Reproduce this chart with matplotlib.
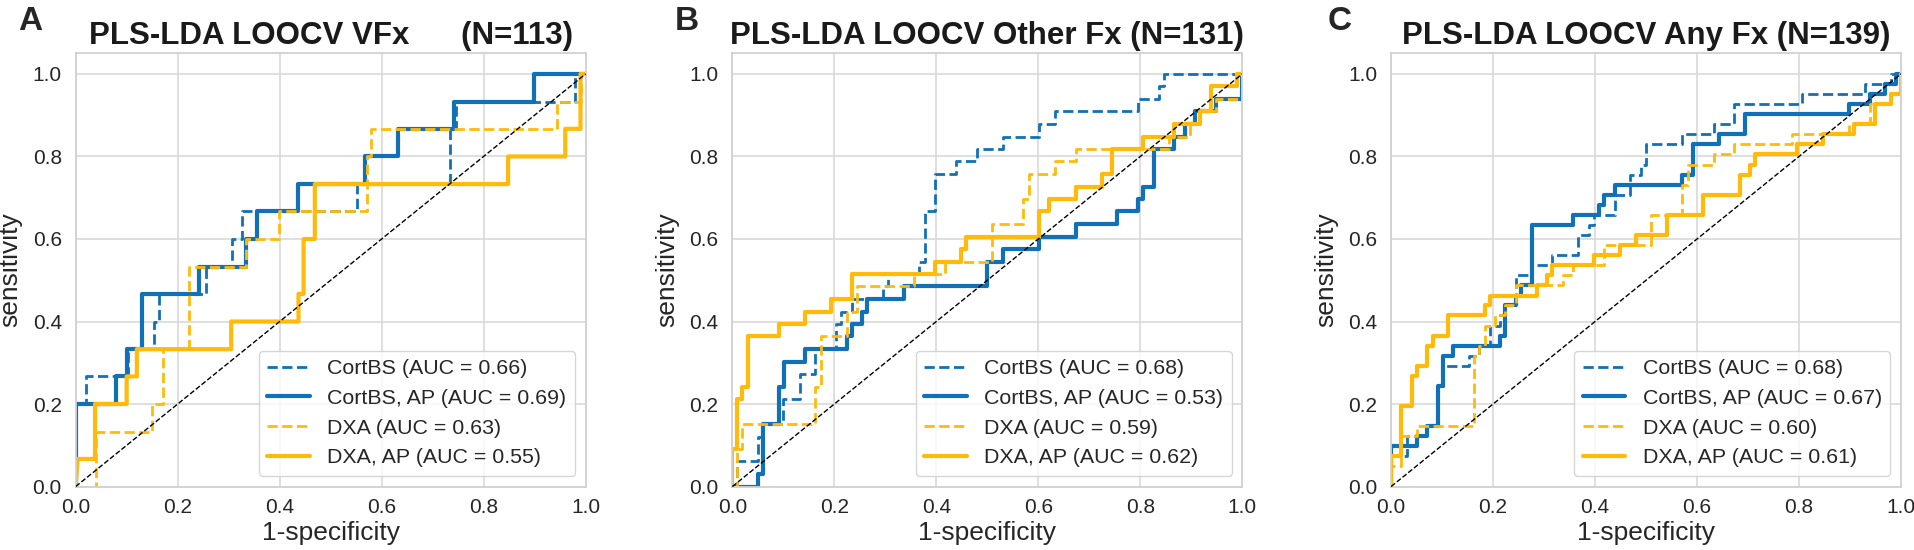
import matplotlib
matplotlib.use("Agg")
import matplotlib.pyplot as plt
import seaborn as sns

# ROC vertices (1-specificity, sensitivity)
# Panel A: vertebral fractures
vfx_cortbs = [(0, 0), (0, 0.2), (0.02, 0.2), (0.02, 0.267), (0.102, 0.267), (0.102, 0.333),
              (0.153, 0.333), (0.153, 0.4), (0.163, 0.4), (0.163, 0.467), (0.255, 0.467),
              (0.255, 0.533), (0.306, 0.533), (0.306, 0.6), (0.327, 0.6), (0.327, 0.667),
              (0.551, 0.667), (0.551, 0.733), (0.735, 0.733), (0.735, 0.867), (0.745, 0.867),
              (0.745, 0.933), (0.98, 0.933), (0.98, 1.0), (1.0, 1.0)]
vfx_cortbs_ap = [(0, 0), (0, 0.2), (0.079, 0.2), (0.079, 0.267), (0.1, 0.267), (0.1, 0.333),
                 (0.131, 0.333), (0.131, 0.467), (0.242, 0.467), (0.242, 0.533), (0.335, 0.533),
                 (0.335, 0.6), (0.355, 0.6), (0.355, 0.667), (0.437, 0.667), (0.437, 0.733),
                 (0.568, 0.733), (0.568, 0.8), (0.633, 0.8), (0.633, 0.867), (0.741, 0.867),
                 (0.741, 0.933), (0.898, 0.933), (0.898, 1.0), (1.0, 1.0)]
vfx_dxa = [(0, 0), (0.04, 0), (0.04, 0.133), (0.149, 0.133), (0.149, 0.2), (0.172, 0.2),
           (0.172, 0.333), (0.223, 0.333), (0.223, 0.533), (0.335, 0.533), (0.335, 0.6),
           (0.398, 0.6), (0.398, 0.667), (0.571, 0.667), (0.571, 0.8), (0.58, 0.8),
           (0.58, 0.867), (0.944, 0.867), (0.944, 0.933), (0.99, 0.933), (0.99, 1.0), (1.0, 1.0)]
vfx_dxa_ap = [(0, 0), (0.004, 0.067), (0.038, 0.067), (0.038, 0.2), (0.1, 0.2), (0.1, 0.267),
              (0.12, 0.267), (0.12, 0.333), (0.305, 0.333), (0.305, 0.4), (0.437, 0.4),
              (0.437, 0.467), (0.447, 0.467), (0.447, 0.6), (0.469, 0.6), (0.469, 0.733),
              (0.848, 0.733), (0.848, 0.8), (0.96, 0.8), (0.96, 0.867), (0.99, 0.867),
              (0.99, 1.0), (1.0, 1.0)]

# Panel B: other fractures
oth_cortbs = [(0, 0), (0.01, 0), (0.01, 0.061), (0.051, 0.061), (0.051, 0.121), (0.061, 0.121),
              (0.061, 0.152), (0.1, 0.152), (0.1, 0.212), (0.133, 0.212), (0.133, 0.273),
              (0.163, 0.273), (0.163, 0.333), (0.204, 0.333), (0.204, 0.394), (0.214, 0.394),
              (0.214, 0.424), (0.235, 0.424), (0.235, 0.455), (0.296, 0.455), (0.296, 0.485),
              (0.306, 0.485), (0.306, 0.515), (0.367, 0.515), (0.367, 0.545), (0.378, 0.545),
              (0.378, 0.667), (0.398, 0.667), (0.398, 0.758), (0.439, 0.758), (0.439, 0.788),
              (0.48, 0.788), (0.48, 0.818), (0.531, 0.818), (0.531, 0.848), (0.602, 0.848),
              (0.602, 0.879), (0.633, 0.879), (0.633, 0.909), (0.796, 0.909), (0.796, 0.939),
              (0.837, 0.939), (0.837, 0.97), (0.847, 0.97), (0.847, 1.0), (1.0, 1.0)]
oth_cortbs_ap = [(0, 0), (0.051, 0), (0.051, 0.03), (0.061, 0.03), (0.061, 0.152), (0.092, 0.152),
                 (0.092, 0.242), (0.102, 0.242), (0.102, 0.303), (0.143, 0.303), (0.143, 0.333),
                 (0.224, 0.333), (0.224, 0.364), (0.235, 0.364), (0.235, 0.394), (0.255, 0.394),
                 (0.255, 0.424), (0.265, 0.424), (0.265, 0.455), (0.337, 0.455), (0.337, 0.485),
                 (0.5, 0.485), (0.5, 0.545), (0.531, 0.545), (0.531, 0.576), (0.602, 0.576),
                 (0.602, 0.606), (0.673, 0.606), (0.673, 0.636), (0.755, 0.636), (0.755, 0.667),
                 (0.796, 0.667), (0.796, 0.697), (0.806, 0.697), (0.806, 0.727), (0.827, 0.727),
                 (0.827, 0.818), (0.867, 0.818), (0.867, 0.848), (0.888, 0.848), (0.888, 0.879),
                 (0.908, 0.879), (0.908, 0.909), (0.949, 0.909), (0.949, 0.939), (1.0, 0.939),
                 (1.0, 1.0)]
oth_dxa = [(0, 0), (0.01, 0), (0.01, 0.091), (0.02, 0.091), (0.02, 0.152), (0.163, 0.152),
           (0.163, 0.242), (0.173, 0.242), (0.173, 0.364), (0.224, 0.364), (0.224, 0.424),
           (0.245, 0.424), (0.245, 0.485), (0.357, 0.485), (0.357, 0.515), (0.418, 0.515),
           (0.418, 0.545), (0.51, 0.545), (0.51, 0.636), (0.571, 0.636), (0.571, 0.697),
           (0.582, 0.697), (0.582, 0.758), (0.633, 0.758), (0.633, 0.788), (0.673, 0.788),
           (0.673, 0.818), (0.857, 0.818), (0.857, 0.848), (0.898, 0.848), (0.898, 0.879),
           (0.918, 0.879), (0.918, 0.909), (0.949, 0.909), (0.949, 0.939), (1.0, 0.939),
           (1.0, 1.0)]
oth_dxa_ap = [(0, 0), (0, 0.091), (0.01, 0.091), (0.01, 0.212), (0.02, 0.212), (0.02, 0.242),
              (0.031, 0.242), (0.031, 0.364), (0.092, 0.364), (0.092, 0.394), (0.143, 0.394),
              (0.143, 0.424), (0.194, 0.424), (0.194, 0.455), (0.235, 0.455), (0.235, 0.515),
              (0.398, 0.515), (0.398, 0.545), (0.449, 0.545), (0.449, 0.576), (0.459, 0.576),
              (0.459, 0.606), (0.602, 0.606), (0.602, 0.667), (0.622, 0.667), (0.622, 0.697),
              (0.673, 0.697), (0.673, 0.727), (0.724, 0.727), (0.724, 0.758), (0.745, 0.758),
              (0.745, 0.818), (0.806, 0.818), (0.806, 0.848), (0.867, 0.848), (0.867, 0.879),
              (0.918, 0.879), (0.918, 0.909), (0.939, 0.909), (0.939, 0.97), (0.99, 0.97),
              (0.99, 1.0), (1.0, 1.0)]

# Panel C: any fracture
any_cortbs = [(0, 0), (0, 0.073), (0.031, 0.073), (0.031, 0.122), (0.071, 0.122), (0.071, 0.146),
              (0.092, 0.146), (0.092, 0.244), (0.102, 0.244), (0.102, 0.293), (0.153, 0.293),
              (0.153, 0.317), (0.173, 0.317), (0.173, 0.341), (0.194, 0.341), (0.194, 0.39),
              (0.214, 0.39), (0.214, 0.415), (0.224, 0.415), (0.224, 0.439), (0.245, 0.439),
              (0.245, 0.512), (0.276, 0.512), (0.276, 0.537), (0.316, 0.537), (0.316, 0.561),
              (0.367, 0.561), (0.367, 0.61), (0.388, 0.61), (0.388, 0.634), (0.398, 0.634),
              (0.398, 0.659), (0.439, 0.659), (0.439, 0.707), (0.469, 0.707), (0.469, 0.756),
              (0.49, 0.756), (0.49, 0.78), (0.5, 0.78), (0.5, 0.829), (0.571, 0.829),
              (0.571, 0.854), (0.633, 0.854), (0.633, 0.878), (0.673, 0.878), (0.673, 0.927),
              (0.806, 0.927), (0.806, 0.951), (0.929, 0.951), (0.929, 0.976), (0.98, 0.976),
              (0.98, 1.0), (1.0, 1.0)]
any_cortbs_ap = [(0, 0), (0, 0.098), (0.051, 0.098), (0.051, 0.122), (0.071, 0.122), (0.071, 0.146),
                 (0.092, 0.146), (0.092, 0.244), (0.102, 0.244), (0.102, 0.317), (0.122, 0.317),
                 (0.122, 0.341), (0.214, 0.341), (0.214, 0.366), (0.224, 0.366), (0.224, 0.439),
                 (0.245, 0.439), (0.245, 0.463), (0.255, 0.463), (0.255, 0.488), (0.276, 0.488),
                 (0.276, 0.634), (0.357, 0.634), (0.357, 0.659), (0.408, 0.659), (0.408, 0.683),
                 (0.418, 0.683), (0.418, 0.707), (0.439, 0.707), (0.439, 0.732), (0.571, 0.732),
                 (0.571, 0.756), (0.592, 0.756), (0.592, 0.829), (0.643, 0.829), (0.643, 0.854),
                 (0.694, 0.854), (0.694, 0.902), (0.898, 0.902), (0.898, 0.927), (0.939, 0.927),
                 (0.939, 0.951), (0.969, 0.951), (0.969, 0.976), (0.99, 0.976), (0.99, 1.0),
                 (1.0, 1.0)]
any_dxa = [(0, 0), (0, 0.049), (0.02, 0.049), (0.02, 0.122), (0.051, 0.122), (0.051, 0.146),
           (0.163, 0.146), (0.163, 0.317), (0.173, 0.317), (0.173, 0.341), (0.184, 0.341),
           (0.184, 0.39), (0.204, 0.39), (0.204, 0.415), (0.224, 0.415), (0.224, 0.439),
           (0.245, 0.439), (0.245, 0.488), (0.337, 0.488), (0.337, 0.512), (0.357, 0.512),
           (0.357, 0.537), (0.418, 0.537), (0.418, 0.585), (0.51, 0.585), (0.51, 0.659),
           (0.571, 0.659), (0.571, 0.732), (0.582, 0.732), (0.582, 0.78), (0.633, 0.78),
           (0.633, 0.805), (0.673, 0.805), (0.673, 0.829), (0.786, 0.829), (0.786, 0.854),
           (0.898, 0.854), (0.898, 0.878), (0.939, 0.878), (0.939, 0.927), (0.98, 0.927),
           (0.98, 0.951), (1.0, 0.951), (1.0, 1.0)]
any_dxa_ap = [(0, 0), (0, 0.073), (0.02, 0.073), (0.02, 0.195), (0.041, 0.195), (0.041, 0.268),
              (0.051, 0.268), (0.051, 0.293), (0.071, 0.293), (0.071, 0.341), (0.082, 0.341),
              (0.082, 0.366), (0.112, 0.366), (0.112, 0.415), (0.184, 0.415), (0.184, 0.439),
              (0.194, 0.439), (0.194, 0.463), (0.286, 0.463), (0.286, 0.488), (0.306, 0.488),
              (0.306, 0.512), (0.316, 0.512), (0.316, 0.537), (0.398, 0.537), (0.398, 0.561),
              (0.449, 0.561), (0.449, 0.585), (0.48, 0.585), (0.48, 0.61), (0.541, 0.61),
              (0.541, 0.659), (0.612, 0.659), (0.612, 0.707), (0.684, 0.707), (0.684, 0.756),
              (0.704, 0.756), (0.704, 0.78), (0.714, 0.78), (0.714, 0.805), (0.796, 0.805),
              (0.796, 0.829), (0.847, 0.829), (0.847, 0.854), (0.908, 0.854), (0.908, 0.878),
              (0.949, 0.878), (0.949, 0.927), (0.98, 0.927), (0.98, 0.951), (1.0, 0.951),
              (1.0, 1.0)]

series_names = ["CortBS", "CortBS, AP", "DXA", "DXA, AP"]
titles = ["PLS-LDA LOOCV VFx      (N=113)",
          "PLS-LDA LOOCV Other Fx (N=131)",
          "PLS-LDA LOOCV Any Fx (N=139)"]
panel_letters = ["A", "B", "C"]
auc_vfx = [0.66, 0.69, 0.63, 0.55]
auc_oth = [0.68, 0.53, 0.59, 0.62]
auc_any = [0.68, 0.67, 0.60, 0.61]

curves = [[vfx_cortbs, vfx_cortbs_ap, vfx_dxa, vfx_dxa_ap],
          [oth_cortbs, oth_cortbs_ap, oth_dxa, oth_dxa_ap],
          [any_cortbs, any_cortbs_ap, any_dxa, any_dxa_ap]]
aucs = [auc_vfx, auc_oth, auc_any]

BLUE = "#1070B8"
GOLD = "#FFBA0A"
styles = [dict(color=BLUE, ls="--", lw=2.0),
          dict(color=BLUE, ls="-", lw=3.0),
          dict(color=GOLD, ls="--", lw=2.0),
          dict(color=GOLD, ls="-", lw=3.0)]

sns.set_style("whitegrid")
plt.rcParams["font.family"] = ["Liberation Sans", "DejaVu Sans"]
plt.rcParams["axes.edgecolor"] = "0.82"
plt.rcParams["grid.color"] = "0.85"

fig = plt.figure(figsize=(19.15, 5.5), dpi=100)
lefts = [0.0395, 0.3824, 0.7264]
letter_x = [0.0094, 0.3525, 0.6935]

for i in range(3):
    ax = fig.add_axes([lefts[i], 0.1153, 0.2663, 0.7878])
    for j in range(4):
        xs = [p[0] for p in curves[i][j]]
        ys = [p[1] for p in curves[i][j]]
        ax.plot(xs, ys, label=f"{series_names[j]} (AUC = {aucs[i][j]:.2f})", **styles[j])
    ax.plot([0, 1], [0, 1], color="k", ls="--", lw=1.0, zorder=5)

    ax.set_xlim(0, 1)
    ax.set_ylim(0, 1.05)
    ax.set_xticks([0, 0.2, 0.4, 0.6, 0.8, 1.0])
    ax.set_yticks([0, 0.2, 0.4, 0.6, 0.8, 1.0])
    ax.set_xticklabels(["0.0", "0.2", "0.4", "0.6", "0.8", "1.0"])
    ax.set_yticklabels(["0.0", "0.2", "0.4", "0.6", "0.8", "1.0"])
    ax.tick_params(axis="x", labelsize=15, pad=8, length=0, colors="0.15")
    ax.tick_params(axis="y", labelsize=15, pad=10, length=0, colors="0.15")
    ax.grid(True, lw=1.2)
    for sp in ax.spines.values():
        sp.set_linewidth(1.3)

    ax.set_xlabel("1-specificity", fontsize=19, labelpad=3, color="0.15")
    ax.set_ylabel("sensitivity", fontsize=19, labelpad=7, color="0.15")
    ax.set_title(titles[i], fontsize=22.5, fontweight="bold", pad=7, color="0.1")
    ax.legend(loc="lower right", fontsize=15.4)

    fig.text(letter_x[i], 0.99, panel_letters[i], fontsize=24, fontweight="bold",
             ha="left", va="top")

fig.savefig("out.png", dpi=100)
